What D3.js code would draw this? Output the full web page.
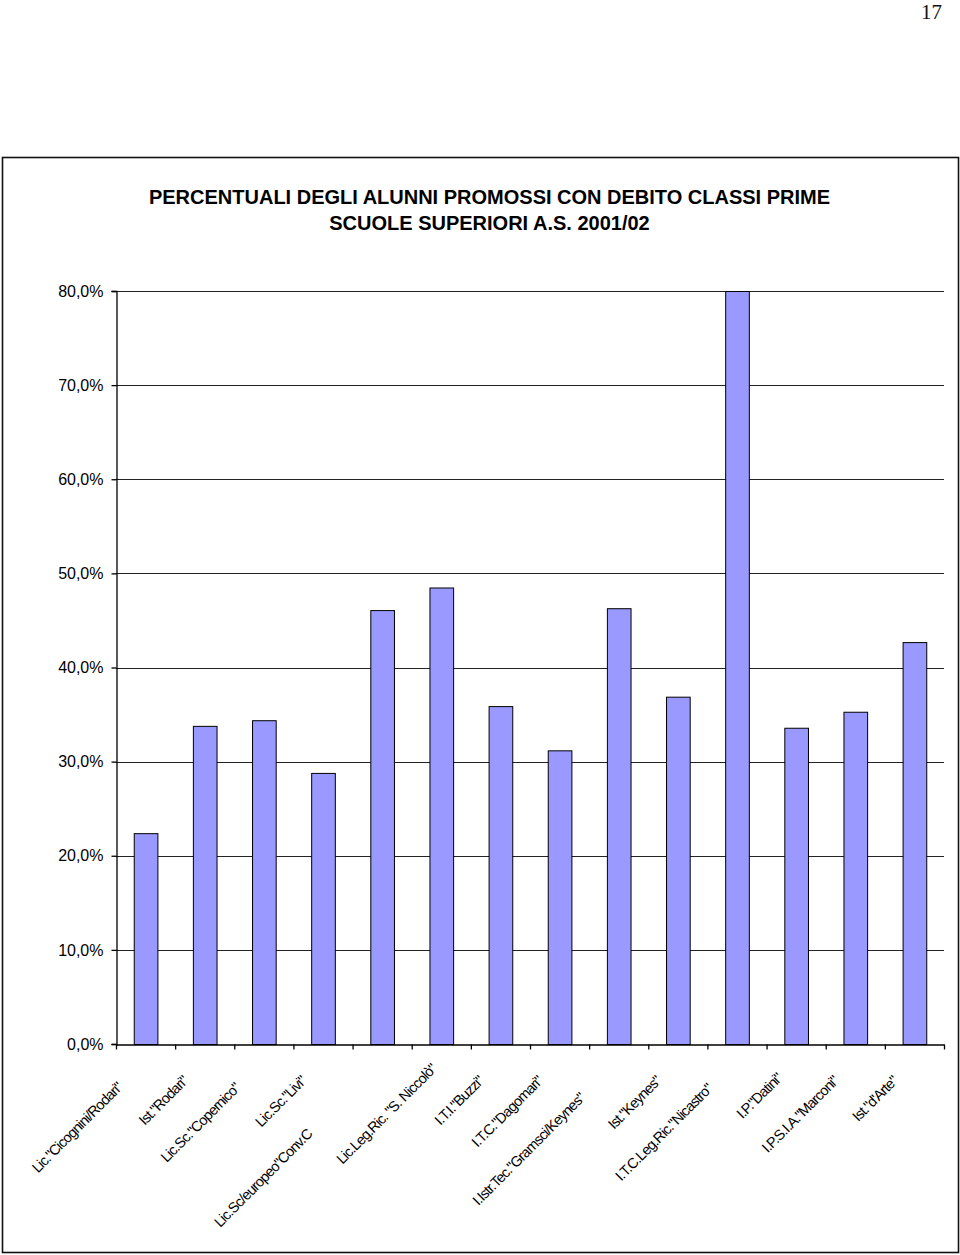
<!DOCTYPE html>
<html>
<head>
<meta charset="utf-8">
<script src="https://cdn.jsdelivr.net/npm/d3@7"></script>
<style>
  html, body { margin: 0; padding: 0; background: #fff; }
  svg { display: block; }
</style>
</head>
<body>
<svg id="chart" width="960" height="1255"></svg>
<script>
// ---------------- data ----------------
const categories = [
  'Lic."Cicognini/Rodari"',
  'Ist."Rodari"',
  'Lic.Sc."Copernico"',
  'Lic.Sc."Livi"',
  'Lic.Sc/europeo"Conv.C',
  'Lic.Leg.Ric. "S. Niccolò"',
  'I.T.I."Buzzi"',
  'I.T.C."Dagomari"',
  'I.Istr.Tec."Gramsci/Keynes"',
  'Ist."Keynes"',
  'I.T.C.Leg.Ric."Nicastro"',
  'I.P."Datini"',
  'I.P.S.I.A."Marconi"',
  'Ist."d\'Arte"'
];
const values = [22.4, 33.8, 34.4, 28.8, 46.1, 48.5, 35.9, 31.2, 46.3, 36.9, 80.0, 33.6, 35.3, 42.7];
const yTicks = [0, 10, 20, 30, 40, 50, 60, 70, 80];
const titleLines = [
  "PERCENTUALI DEGLI ALUNNI PROMOSSI CON DEBITO CLASSI PRIME",
  "SCUOLE SUPERIORI A.S. 2001/02"
];
const pageNumber = "17";

// ---------------- layout ----------------
// shift of each category label along its own (rotated) direction
const labelShift = [-9, 0, -10, 0, -75, 17, 0, 0, -24, 0, -11, 4, 0, 0];

(function draw() {
const svg = d3.select("#chart");
svg.append("rect").attr("width", 960).attr("height", 1255).attr("fill", "#fff");

// page number
svg.append("text")
  .attr("x", 942).attr("y", 19)
  .attr("text-anchor", "end")
  .attr("font-family", "'Liberation Serif', 'DejaVu Serif', serif")
  .attr("font-size", 21)
  .attr("fill", "#111")
  .text(pageNumber);

// outer frame
svg.append("rect")
  .attr("x", 2.5).attr("y", 157.5)
  .attr("width", 956).attr("height", 1095)
  .attr("fill", "none")
  .attr("stroke", "#111")
  .attr("stroke-width", 1.6);

// title
svg.append("g").selectAll("text")
  .data(titleLines)
  .join("text")
  .attr("x", 489.5)
  .attr("y", (d, i) => 203.5 + i * 26.5)
  .attr("text-anchor", "middle")
  .attr("font-family", "'Liberation Sans', Arial, sans-serif")
  .attr("font-weight", "bold")
  .attr("font-size", 20)
  .attr("fill", "#000")
  .text(d => d);

const pLeft = 116, pRight = 944, pTop = 291, pBottom = 1044;

const x = d3.scaleBand()
  .domain(categories)
  .range([pLeft, pRight])
  .paddingInner(0.6)
  .paddingOuter(0.3);

const y = d3.scaleLinear()
  .domain([0, 80])
  .range([pBottom, pTop])
  .clamp(true);

const itLocale = d3.formatLocale({ decimal: ",", thousands: ".", grouping: [3], currency: ["€", ""] });
const pct = itLocale.format(".1f");

// gridlines
svg.append("g").selectAll("line")
  .data(yTicks.filter(t => t > 0))
  .join("line")
  .attr("x1", pLeft).attr("x2", pRight)
  .attr("y1", d => Math.round(y(d)) + 0.5)
  .attr("y2", d => Math.round(y(d)) + 0.5)
  .attr("stroke", "#222")
  .attr("stroke-width", 1);

// bars
svg.append("g").selectAll("rect")
  .data(values)
  .join("rect")
  .attr("x", (d, i) => x(categories[i]) + 0.5)
  .attr("y", d => y(d) + 0.5)
  .attr("width", x.bandwidth())
  .attr("height", d => pBottom - y(d))
  .attr("fill", "#9999FF")
  .attr("stroke", "#000")
  .attr("stroke-width", 1);

// y axis
const yAxis = svg.append("g")
  .attr("transform", `translate(${pLeft + 0.5},0)`)
  .call(d3.axisLeft(y).tickValues(yTicks).tickSize(5).tickPadding(8).tickFormat(d => pct(d) + "%"));
yAxis.select(".domain").attr("stroke", "#000").attr("stroke-width", 1.3);
yAxis.selectAll(".tick line").attr("stroke", "#000").attr("stroke-width", 1.3);
yAxis.selectAll(".tick text")
  .attr("font-family", "'Liberation Sans', Arial, sans-serif")
  .attr("font-size", 16)
  .attr("fill", "#000");

// x axis (ticks at category boundaries)
const xb = d3.scaleLinear().domain([0, categories.length]).range([pLeft, pRight]);
const xAxis = svg.append("g")
  .attr("transform", `translate(0,${pBottom + 0.5})`)
  .call(d3.axisBottom(xb).tickValues(d3.range(categories.length + 1)).tickSize(5).tickSizeOuter(0).tickFormat(""));
xAxis.select(".domain").attr("stroke", "#000").attr("stroke-width", 1.3);
xAxis.selectAll(".tick line").attr("stroke", "#000").attr("stroke-width", 1.3);

// category labels, rotated -45°
svg.append("g").selectAll("text")
  .data(categories)
  .join("text")
  .attr("transform", d => `translate(${x(d) + x.bandwidth() / 2 - 16},${pBottom + 38}) rotate(-45)`)
  .attr("dx", (d, i) => labelShift[i])
  .attr("text-anchor", "end")
  .attr("font-family", "'Liberation Sans', Arial, sans-serif")
  .attr("font-size", 14.5)
  .attr("letter-spacing", -0.85)
  .attr("fill", "#000")
  .text(d => d);
})();
</script>
</body>
</html>
